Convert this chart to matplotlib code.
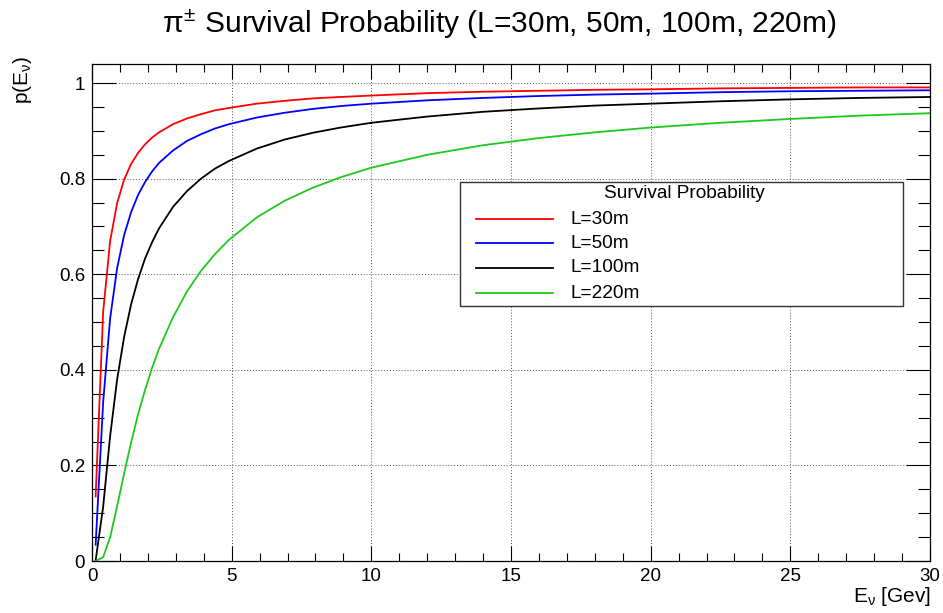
import matplotlib
matplotlib.use("Agg")
import matplotlib.pyplot as plt
from matplotlib.ticker import MultipleLocator
from matplotlib.patches import Rectangle
from matplotlib.lines import Line2D

plt.rcParams['font.family'] = ['Liberation Sans', 'DejaVu Sans']
plt.rcParams['mathtext.fontset'] = 'custom'
plt.rcParams['mathtext.rm'] = 'Liberation Sans'
plt.rcParams['mathtext.it'] = 'Liberation Sans'
plt.rcParams['mathtext.bf'] = 'Liberation Sans:bold'

# ---- data ----
energy = [0.13, 0.4, 0.65, 0.9, 1.15, 1.4, 1.65, 1.9, 2.15, 2.4, 2.9, 3.4, 3.9, 4.4, 4.9,
          5.9, 6.9, 7.9, 8.9, 10, 12, 14, 16, 18, 20, 22.5, 25, 27.5, 30]
p_30m = [0.135, 0.522, 0.670, 0.749, 0.798, 0.831, 0.854, 0.872, 0.886, 0.897, 0.914, 0.926,
         0.935, 0.943, 0.948, 0.957, 0.963, 0.968, 0.971, 0.974, 0.979, 0.982, 0.984, 0.986,
         0.987, 0.989, 0.990, 0.991, 0.991]
p_50m = [0.034, 0.333, 0.508, 0.613, 0.682, 0.730, 0.766, 0.793, 0.815, 0.833, 0.859, 0.879,
         0.893, 0.905, 0.914, 0.928, 0.938, 0.946, 0.952, 0.957, 0.964, 0.969, 0.973, 0.976,
         0.978, 0.981, 0.983, 0.984, 0.985]
p_100m = [0.001, 0.114, 0.262, 0.380, 0.469, 0.537, 0.590, 0.633, 0.667, 0.696, 0.741, 0.774,
          0.800, 0.821, 0.837, 0.863, 0.882, 0.896, 0.907, 0.917, 0.930, 0.940, 0.947, 0.953,
          0.957, 0.962, 0.966, 0.969, 0.971]
p_220m = [0.000, 0.008, 0.050, 0.115, 0.183, 0.248, 0.307, 0.358, 0.404, 0.444, 0.510, 0.564,
          0.607, 0.642, 0.672, 0.719, 0.754, 0.781, 0.803, 0.823, 0.850, 0.870, 0.885, 0.897,
          0.907, 0.917, 0.925, 0.932, 0.937]
series_labels = ['L=30m', 'L=50m', 'L=100m', 'L=220m']
series_colors = ['#ff0000', '#0000ff', '#000000', '#1ec81e']
series_values = [p_30m, p_50m, p_100m, p_220m]

W, H = 943, 613
fig = plt.figure(figsize=(W / 100, H / 100), dpi=100)
fx = lambda x: x / W
fy = lambda y: 1 - y / H

ax = fig.add_axes([fx(92), fy(561), fx(930) - fx(92), fy(64) - fy(561)])
for vals, col, lab in zip(series_values, series_colors, series_labels):
    ax.plot(energy, vals, color=col, lw=1.3, label=lab)

ax.set_xlim(0, 30)
ax.set_ylim(0, 1.04)
ax.xaxis.set_major_locator(MultipleLocator(5))
ax.xaxis.set_minor_locator(MultipleLocator(1))
ax.yaxis.set_major_locator(MultipleLocator(0.2))
ax.yaxis.set_minor_locator(MultipleLocator(0.05))
ax.set_yticks([0, 0.2, 0.4, 0.6, 0.8, 1.0])
ax.set_yticklabels(['0', '0.2', '0.4', '0.6', '0.8', '1'])
ax.set_xticks([0, 5, 10, 15, 20, 25, 30])
ax.set_xticklabels(['0', '5', '10', '15', '20', '25', '30'])

ax.tick_params(axis='both', which='both', direction='in', top=True, right=True,
               width=0.8, labelsize=13.5, color='black')
ax.tick_params(axis='y', which='major', length=17, pad=5)
ax.tick_params(axis='y', which='minor', length=8.5)
ax.tick_params(axis='x', which='major', length=11, pad=5)
ax.tick_params(axis='x', which='minor', length=5.8)
for s in ax.spines.values():
    s.set_linewidth(0.9)
ax.grid(True, which='major', linestyle=(0, (1, 2)), color='#555555', lw=0.7)

# titles
fig.text(fx(499), fy(24), r'$\pi^{\pm}$ Survival Probability (L=30m, 50m, 100m, 220m)',
         ha='center', va='center', fontsize=21.5)
fig.text(fx(22), fy(56), r'p(E$_{\nu}$)', rotation=90, ha='center', va='top', fontsize=15)
fig.text(fx(931), fy(596), r'E$_{\nu}$ [Gev]', ha='right', va='center', fontsize=15)

# legend box
fig.patches.append(Rectangle((fx(460), fy(306)), fx(903) - fx(460), fy(182) - fy(306),
                             transform=fig.transFigure, facecolor='white',
                             edgecolor='#333333', lw=1.0, zorder=5))
fig.text(fx(684), fy(194), 'Survival Probability', ha='center', va='center',
         fontsize=13.7, zorder=6)
rows = [219, 243, 268, 293]
for r, col, lab in zip(rows, series_colors, series_labels):
    fig.add_artist(Line2D([fx(476), fx(553)], [fy(r), fy(r)], color=col, lw=1.3,
                          transform=fig.transFigure, zorder=6))
    fig.text(fx(570), fy(r), lab, ha='left', va='center', fontsize=13.7, zorder=6)

fig.savefig('out.png', dpi=100)
